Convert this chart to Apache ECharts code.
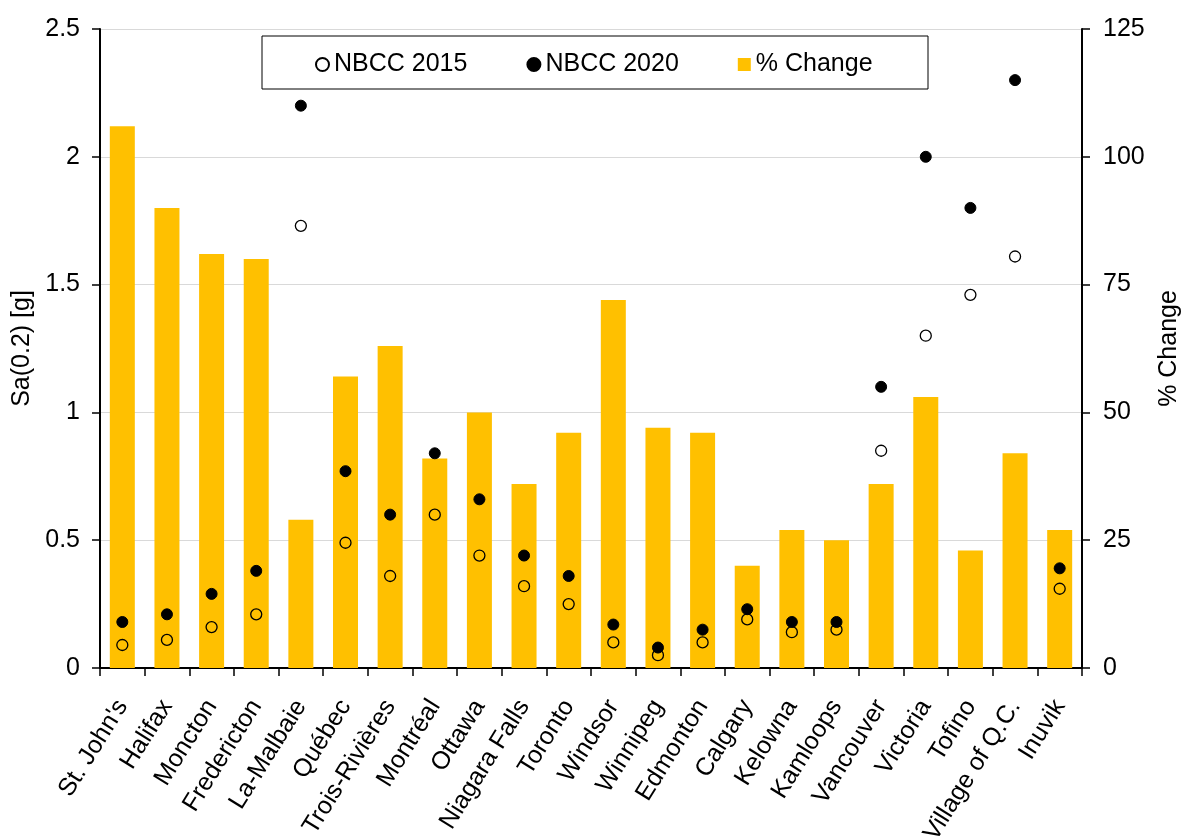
<!DOCTYPE html>
<html>
<head>
<meta charset="utf-8">
<script src="https://cdn.jsdelivr.net/npm/echarts@6/dist/echarts.min.js"></script>
<style>
  html, body { margin: 0; padding: 0; background: #fff; }
  #chart { width: 1184px; height: 839px; }
</style>
</head>
<body>
<div id="chart"></div>
<script>
// Seismic short-period spectral acceleration by city, two code editions
const cities = ["St. John's", "Halifax", "Moncton", "Fredericton", "La-Malbaie", "Québec",
  "Trois-Rivières", "Montréal", "Ottawa", "Niagara Falls", "Toronto", "Windsor", "Winnipeg",
  "Edmonton", "Calgary", "Kelowna", "Kamloops", "Vancouver", "Victoria", "Tofino",
  "Village of Q.C.", "Inuvik"];

const nbcc2015 = [0.09, 0.11, 0.16, 0.21, 1.73, 0.49, 0.36, 0.60, 0.44, 0.32, 0.25, 0.10, 0.05,
  0.10, 0.19, 0.14, 0.15, 0.85, 1.30, 1.46, 1.61, 0.31];

const nbcc2020 = [0.18, 0.21, 0.29, 0.38, 2.20, 0.77, 0.60, 0.84, 0.66, 0.44, 0.36, 0.17, 0.08,
  0.15, 0.23, 0.18, 0.18, 1.10, 2.00, 1.80, 2.30, 0.39];

const pctChange = [106, 90, 81, 80, 29, 57, 63, 41, 50, 36, 46, 72, 47, 46, 20, 27, 25, 36, 53,
  23, 42, 27];

const FONT = 'Liberation Sans, Arial, sans-serif';
const FS = 25;
const chart = echarts.init(document.getElementById('chart'), null, { renderer: 'canvas' });

chart.setOption({
  animation: false,
  backgroundColor: '#ffffff',
  textStyle: { fontFamily: FONT, color: '#000' },
  grid: { left: 100, right: 102, top: 29, bottom: 171, containLabel: false, outerBoundsMode: 'none' },
  graphic: [{
    type: 'rect',
    shape: { x: 262, y: 36, width: 666, height: 53 },
    style: { fill: '#fff', stroke: '#000', lineWidth: 1 },
    z: 5
  }],
  legend: {
    data: [
      { name: 'NBCC 2015', icon: 'circle' },
      { name: 'NBCC 2020', icon: 'circle' },
      { name: '% Change', icon: 'rect' }
    ],
    left: 310,
    top: 47,
    itemWidth: 13,
    itemHeight: 13,
    itemGap: 59,
    textStyle: { fontFamily: FONT, fontSize: FS, color: '#000' },
    z: 10
  },
  xAxis: {
    type: 'category',
    data: cities,
    axisLine: { lineStyle: { color: '#000', width: 2 } },
    axisTick: { show: true, alignWithLabel: false, length: 8, lineStyle: { color: '#000', width: 1.5 } },
    axisLabel: { interval: 0, rotate: 58, fontFamily: FONT, fontSize: FS, color: '#000', margin: 34 }
  },
  yAxis: [{
    type: 'value',
    min: 0, max: 2.5, interval: 0.5,
    name: 'Sa(0.2) [g]',
    nameLocation: 'middle',
    nameGap: 61,
    nameTextStyle: { fontFamily: FONT, fontSize: FS, color: '#000' },
    axisLine: { show: true, lineStyle: { color: '#000', width: 2 } },
    axisTick: { show: true, length: 8, lineStyle: { color: '#000', width: 1.5 } },
    axisLabel: { fontFamily: FONT, fontSize: FS, color: '#000', margin: 20 },
    splitLine: { show: true, lineStyle: { color: '#d9d9d9', width: 1 } }
  }, {
    type: 'value',
    min: 0, max: 125, interval: 25,
    name: '% Change',
    nameLocation: 'middle',
    nameGap: 75,
    nameRotate: 90,
    nameTextStyle: { fontFamily: FONT, fontSize: FS, color: '#000' },
    axisLine: { show: true, lineStyle: { color: '#000', width: 2 } },
    axisTick: { show: true, length: 8, lineStyle: { color: '#000', width: 1.5 } },
    axisLabel: { fontFamily: FONT, fontSize: FS, color: '#000', margin: 21 },
    splitLine: { show: false }
  }],
  series: [{
    name: '% Change',
    type: 'bar',
    yAxisIndex: 1,
    data: pctChange,
    barWidth: 25,
    itemStyle: { color: '#ffc000' },
    z: 2
  }, {
    name: 'NBCC 2015',
    type: 'scatter',
    yAxisIndex: 0,
    data: nbcc2015,
    symbol: 'circle',
    symbolSize: 11,
    itemStyle: { color: 'rgba(0,0,0,0)', borderColor: '#000', borderWidth: 1.3, opacity: 1 },
    z: 3
  }, {
    name: 'NBCC 2020',
    type: 'scatter',
    yAxisIndex: 0,
    data: nbcc2020,
    symbol: 'circle',
    symbolSize: 11,
    itemStyle: { color: '#000', borderColor: '#000', borderWidth: 1, opacity: 1 },
    z: 4
  }]
});
</script>
</body>
</html>
